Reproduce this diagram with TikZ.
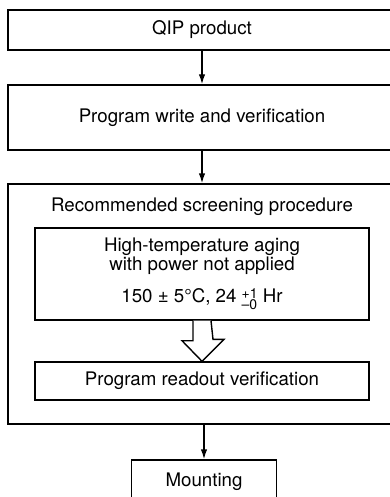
\documentclass[tikz,border=0pt]{standalone}
\usepackage{fontspec}
\setmainfont{TeX Gyre Heros}
\usetikzlibrary{arrows.meta,calc,positioning}
\newcommand{\tolstack}[2]{\raisebox{-6.5pt}{\fontsize{14}{10.5}\selectfont\vbox{\hbox{#1}\hbox{#2}}}}

\begin{document}
\begin{tikzpicture}[x=1pt,y=-1pt]
\tikzset{box/.style = {shape=rectangle,draw,line width=1.4pt,inner sep=0pt,align=center,font=\fontsize{18.7}{19}\selectfont}}
\tikzset{edge/.style = {-{Latex[length=10pt,width=6.5pt]},line width=1.4pt}}
\clip (0,0) rectangle (390,497);
\node[box,minimum width=388,minimum height=40] (qip) at (202,30) {QIP product};
\node[box,minimum width=388,minimum height=65] (write) at (202,117.5) {Program write and verification};
\node[box,minimum width=388,minimum height=240] (screen) at (202,304) {};
\node[box,draw=none] (title) at (202,207) {Recommended screening procedure};
\node[box,minimum width=334,minimum height=92] (aging) at (202,274)
  {High-temperature aging\\with power not applied\\[13pt]150 ± 5°C, 24 \tolstack{+1}{–0} Hr};
\node[box,minimum width=334,minimum height=38] (readout) at (202,381) {Program readout verification};
\node[box,minimum width=145,minimum height=44] (mount) at (204,482) {Mounting};
\draw[edge] (qip) -- (write);
\draw[edge] (write) -- (screen);
\draw[edge] (screen.south -| mount.north) -- (mount);
% hollow arrow inside the screening box
\draw[line width=1.4pt,fill=white] ([xshift=-9pt]aging.south) -- ++(0,20) -- ++(-11,0)
  -- (readout.north) -- ++(22,-22) -- ++(-11,0) -- ([xshift=9pt]aging.south);
\end{tikzpicture}
\end{document}
